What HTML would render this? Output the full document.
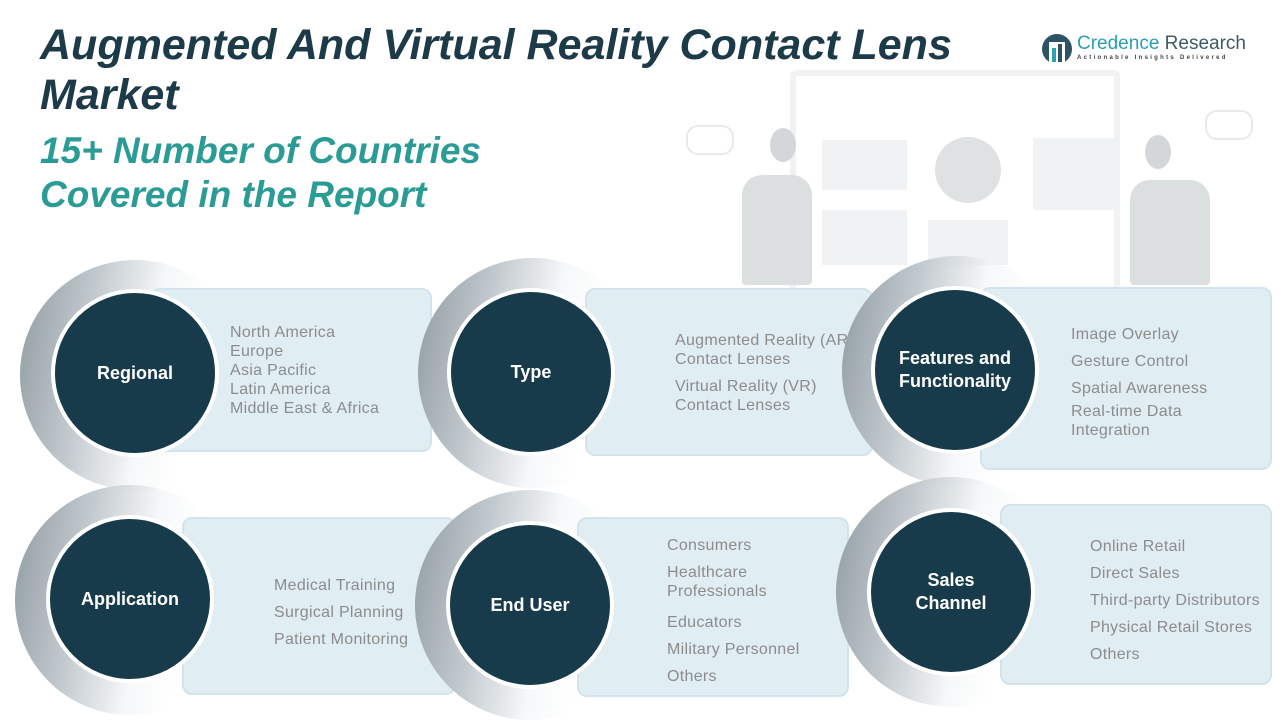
<!DOCTYPE html>
<html><head><meta charset="utf-8"><style>
*{margin:0;padding:0;box-sizing:border-box}
body{width:1280px;height:720px;background:#fff;position:relative;overflow:hidden;font-family:"Liberation Sans",sans-serif}
.t1{position:absolute;left:40px;top:20px;font-size:43px;font-weight:bold;font-style:italic;color:#1d3a48;line-height:50px}
.t2{position:absolute;left:40px;top:129px;font-size:37px;font-weight:bold;font-style:italic;color:#2b9b96;line-height:44px}
.ring{position:absolute;border-radius:50%;background:linear-gradient(100deg,#8e9aa1 0%,#c3cacf 30%,rgba(240,243,245,.6) 55%,rgba(255,255,255,0) 72%)}
.c{position:absolute;border-radius:50%;background:#173b4a;border:4px solid #fff;color:#fff;font-weight:bold;font-size:18px;display:flex;align-items:center;justify-content:center;text-align:center;line-height:23px}
.box{position:absolute;background:#e0edf3;border:2px solid #d2e3ec;border-radius:10px}
.l{position:absolute;color:#8c8c8c;font-size:16px;line-height:19px;letter-spacing:.3px}
.ill{position:absolute;background:#f1f2f3}
</style></head><body>
<!-- illustration -->
<div class="ill" style="left:790px;top:70px;width:330px;height:230px;background:#fff;border:6px solid #f1f2f3;border-radius:6px"></div>
<div class="ill" style="left:822px;top:140px;width:85px;height:50px"></div>
<div class="ill" style="left:935px;top:137px;width:66px;height:66px;border-radius:50%;background:#dfe1e2"></div>
<div class="ill" style="left:1033px;top:138px;width:82px;height:72px"></div>
<div class="ill" style="left:822px;top:210px;width:85px;height:55px"></div>
<div class="ill" style="left:928px;top:220px;width:80px;height:45px"></div>
<div class="ill" style="left:742px;top:175px;width:70px;height:110px;border-radius:20px 20px 4px 4px;background:#dcdfe0"></div>
<div class="ill" style="left:770px;top:128px;width:26px;height:34px;border-radius:50%;background:#d4d7d9"></div>
<div class="ill" style="left:1130px;top:180px;width:80px;height:105px;border-radius:20px 20px 4px 4px;background:#dcdfe0"></div>
<div class="ill" style="left:1145px;top:135px;width:26px;height:34px;border-radius:50%;background:#d4d7d9"></div>
<div class="ill" style="left:686px;top:125px;width:48px;height:30px;border-radius:12px;background:#fff;border:2px solid #e8e9ea"></div>
<div class="ill" style="left:1205px;top:110px;width:48px;height:30px;border-radius:12px;background:#fff;border:2px solid #e8e9ea"></div>

<div class="t1">Augmented And Virtual Reality Contact Lens<br>Market</div>
<div class="t2">15+ Number of Countries<br>Covered in the Report</div>

<!-- logo -->
<div style="position:absolute;left:1042px;top:34px;width:30px;height:30px;border-radius:50%;background:#2d5364"></div>
<div style="position:absolute;left:1049px;top:42px;width:16px;height:22px;background:#fff"></div>
<div style="position:absolute;left:1052px;top:48px;width:4px;height:14px;background:#2ba3b5"></div>
<div style="position:absolute;left:1058px;top:44px;width:4px;height:18px;background:#2d5364"></div>
<div style="position:absolute;left:1077px;top:33px;font-size:19px;color:#2b9fb0;white-space:nowrap">Credence <span style="color:#3f5a66">Research</span></div>
<div style="position:absolute;left:1077px;top:55px;font-size:6px;color:#444;letter-spacing:2.3px;font-weight:bold">Actionable Insights Delivered</div>

<!-- row 1 -->
<div class="ring" style="left:20px;top:260px;width:230px;height:230px"></div>
<div class="box" style="left:150px;top:288px;width:282px;height:164px"></div>
<div class="c" style="left:51px;top:289px;width:168px;height:168px">Regional</div>
<div class="l" style="left:230px;top:323px">North America<br>Europe<br>Asia Pacific<br>Latin America<br>Middle East &amp; Africa</div>

<div class="ring" style="left:418px;top:258px;width:230px;height:230px"></div>
<div class="box" style="left:585px;top:288px;width:288px;height:168px"></div>
<div class="c" style="left:447px;top:288px;width:168px;height:168px">Type</div>
<div class="l" style="left:675px;top:331px">Augmented Reality (AR)<br>Contact Lenses</div>
<div class="l" style="left:675px;top:377px">Virtual Reality (VR)<br>Contact Lenses</div>

<div class="ring" style="left:842px;top:256px;width:230px;height:230px"></div>
<div class="box" style="left:980px;top:287px;width:292px;height:183px"></div>
<div class="c" style="left:871px;top:286px;width:168px;height:168px">Features and<br>Functionality</div>
<div class="l" style="left:1071px;top:321px;line-height:27px">Image Overlay<br>Gesture Control<br>Spatial Awareness</div>
<div class="l" style="left:1071px;top:402px">Real-time Data<br>Integration</div>

<!-- row 2 -->
<div class="ring" style="left:15px;top:485px;width:230px;height:230px"></div>
<div class="box" style="left:182px;top:517px;width:274px;height:178px"></div>
<div class="c" style="left:46px;top:515px;width:168px;height:168px">Application</div>
<div class="l" style="left:274px;top:572px;line-height:27px">Medical Training<br>Surgical Planning<br>Patient Monitoring</div>

<div class="ring" style="left:415px;top:490px;width:230px;height:230px"></div>
<div class="box" style="left:577px;top:517px;width:272px;height:180px"></div>
<div class="c" style="left:446px;top:521px;width:168px;height:168px">End User</div>
<div class="l" style="left:667px;top:536px">Consumers</div>
<div class="l" style="left:667px;top:563px">Healthcare<br>Professionals</div>
<div class="l" style="left:667px;top:609px;line-height:27px">Educators<br>Military Personnel<br>Others</div>

<div class="ring" style="left:836px;top:477px;width:230px;height:230px"></div>
<div class="box" style="left:1000px;top:504px;width:272px;height:181px"></div>
<div class="c" style="left:867px;top:508px;width:168px;height:168px">Sales<br>Channel</div>
<div class="l" style="left:1090px;top:533px;line-height:27px">Online Retail<br>Direct Sales<br>Third-party Distributors<br>Physical Retail Stores<br>Others</div>
</body></html>
